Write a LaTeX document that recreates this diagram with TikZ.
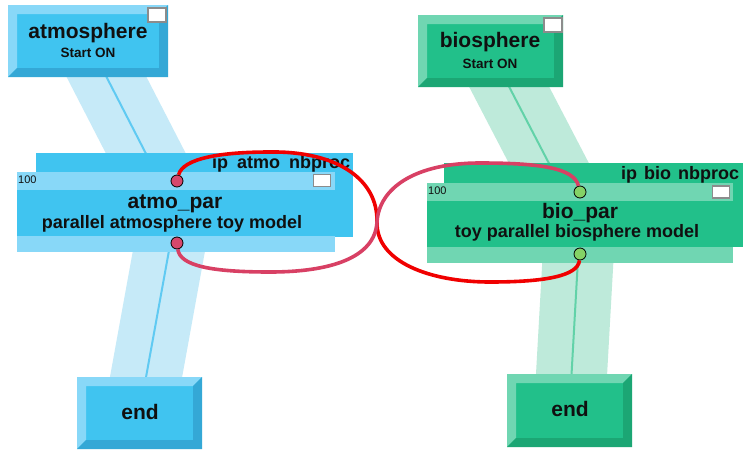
\documentclass[tikz,border=0pt]{standalone}
\usepackage{fontspec}
\setmainfont{Liberation Sans}
\usetikzlibrary{backgrounds}

\definecolor{atmomain}{RGB}{64,196,240}
\definecolor{atmolight}{RGB}{136,216,248}
\definecolor{atmodark}{RGB}{52,168,214}
\definecolor{atmoband}{RGB}{198,234,248}
\definecolor{atmoline}{RGB}{96,202,242}
\definecolor{atmoport}{RGB}{214,72,108}
\definecolor{biomain}{RGB}{34,192,138}
\definecolor{biolight}{RGB}{112,214,178}
\definecolor{biodark}{RGB}{28,166,116}
\definecolor{bioband}{RGB}{190,234,218}
\definecolor{bioline}{RGB}{98,210,168}
\definecolor{bioport}{RGB}{132,210,102}
\definecolor{linkred}{RGB}{240,0,0}
\definecolor{linkpink}{RGB}{216,64,100}
\definecolor{flaggray}{RGB}{140,140,140}
\definecolor{ink}{RGB}{16,16,16}

\begin{document}
\begin{tikzpicture}[x=1pt,y=-1pt,
  bevel/.style n args={3}{fill=#1, inner sep=0pt, path picture={
    \fill[#2] (path picture bounding box.north west) -- (path picture bounding box.north east)
      -- ([shift={(-9pt,-9pt)}]path picture bounding box.north east)
      -- ([shift={(9pt,-9pt)}]path picture bounding box.north west)
      -- ([shift={(9pt,9pt)}]path picture bounding box.south west)
      -- (path picture bounding box.south west) -- cycle;
    \fill[#3] (path picture bounding box.south east) -- (path picture bounding box.north east)
      -- ([shift={(-9pt,-9pt)}]path picture bounding box.north east)
      -- ([shift={(-9pt,9pt)}]path picture bounding box.south east)
      -- ([shift={(9pt,9pt)}]path picture bounding box.south west)
      -- (path picture bounding box.south west) -- cycle;}},
  atmobox/.style={bevel={atmomain}{atmolight}{atmodark}},
  biobox/.style={bevel={biomain}{biolight}{biodark}},
  parbox/.style 2 args={fill=#1, inner sep=0pt, path picture={
    \fill[#2] (path picture bounding box.north west) rectangle ([yshift=-18pt]path picture bounding box.north east);
    \fill[#2] (path picture bounding box.south west) rectangle ([yshift=16pt]path picture bounding box.south east);}},
  band/.style 2 args={line width=71pt, draw=#1, postaction={draw=#2, line width=2pt}},
  port/.style={circle, draw=black, line width=0.8pt, fill=#1, minimum size=12pt, inner sep=0pt},
  flag/.style={draw=flaggray, fill=white, line width=1.2pt, minimum width=17pt, minimum height=12pt, inner sep=0pt},
  link/.style={line width=3.6pt, draw=#1},
  bigname/.style={font=\fontsize{21}{24}\selectfont\bfseries, text=ink, inner sep=0pt, anchor=base},
  descr/.style={font=\fontsize{18}{20}\selectfont\bfseries, text=ink, inner sep=0pt, anchor=base},
  status/.style={font=\fontsize{13.5}{15}\selectfont\bfseries, text=ink, inner sep=0pt, anchor=base},
  smallnum/.style={font=\fontsize{11}{12}\selectfont, text=ink, inner sep=0pt, anchor=base west}]
\useasboundingbox (0,0) rectangle (743,450);

% start models
\node[atmobox, minimum width=160pt, minimum height=72pt] (atmos) at (88,41) {};
\node[flag, minimum width=18pt, minimum height=14pt] (atmosflag) at (157,15) {};
\node[bigname] (atmostitle) at (88,38) {atmosphere};
\node[status] (atmosstate) at (88,57) {Start ON};
\node[biobox, minimum width=145pt, minimum height=72pt] (bios) at (490.5,51) {};
\node[flag, minimum width=18pt, minimum height=14pt] (biosflag) at (553,25) {};
\node[bigname] (biostitle) at (490,47) {biosphere};
\node[status] (biosstate) at (490,68) {Start ON};

% parallel blocks
\node[fill=atmomain, minimum width=317pt, minimum height=84pt, inner sep=0pt] (atmoback) at (194.5,195) {};
\begin{scope}
\clip (atmoback.south west) rectangle (atmoback.north east);
\node[descr, anchor=base west] (atmoip) at (212,168) {ip\hspace{9pt}atmo\hspace{9pt}nbproc};
\end{scope}
\node[parbox={atmomain}{atmolight}, minimum width=318pt, minimum height=80pt] (atmopar) at (176,212) {};
\node[smallnum] (atmonum) at (18,183) {100};
\node[flag] (atmoflag) at (322,180.5) {};
\node[bigname] (atmoname) at (175,208) {atmo\_par};
\node[descr] (atmodescr) at (172,228) {parallel atmosphere toy model};

\node[fill=biomain, minimum width=316pt, minimum height=84pt, inner sep=0pt] (bioback) at (602,205) {};
\node[descr, anchor=base west] (bioip) at (621,179) {ip\hspace{7pt}bio\hspace{7pt}nbproc};
\node[parbox={biomain}{biolight}, minimum width=306pt, minimum height=80pt] (biopar) at (580,223) {};
\node[smallnum] (bionum) at (428,194) {100};
\node[flag] (bioflag) at (721,192) {};
\node[bigname] (bioname) at (580,218) {bio\_par};
\node[descr] (biodescr) at (577,237) {toy parallel biosphere model};

% end models
\node[atmobox, minimum width=125pt, minimum height=72pt] (atmoend) at (139.5,413) {};
\node[bigname] (atmoendtxt) at (140,419) {end};
\node[biobox, minimum width=125pt, minimum height=73pt] (bioend) at (569.5,410.5) {};
\node[bigname] (bioendtxt) at (570,416) {end};

% ports
\node[port=atmoport] (atmoin) at (177,181) {};
\node[port=atmoport] (atmoout) at (177,243) {};
\node[port=bioport] (bioin) at (580,192) {};
\node[port=bioport] (bioout) at (580,254) {};

% control flow bands
\begin{scope}[on background layer]
\fill[white] (0,0) rectangle (743,450);
\draw[band={atmoband}{atmoline}] (atmos.center) -- (atmopar.center);
\draw[band={atmoband}{atmoline}] (atmopar.center) -- (atmoend.center);
\draw[band={bioband}{bioline}] (bios.center) -- (biopar.center);
\draw[band={bioband}{bioline}] (biopar.center) -- (bioend.center);
\end{scope}

% coupling links
\draw[link=linkred] (atmoin) .. controls (183,158) and (222,152) .. (270,152)
  .. controls (338,151) and (378,180) .. (377,222)
  .. controls (376,262) and (430,282) .. (490,282)
  .. controls (545,282) and (578,276) .. (bioout);
\draw[link=linkpink] (bioin) .. controls (574,168) and (540,163) .. (480,163)
  .. controls (415,163) and (379,188) .. (377,222)
  .. controls (375,258) and (330,272) .. (270,272)
  .. controls (212,272) and (180,266) .. (atmoout);
\end{tikzpicture}
\end{document}
